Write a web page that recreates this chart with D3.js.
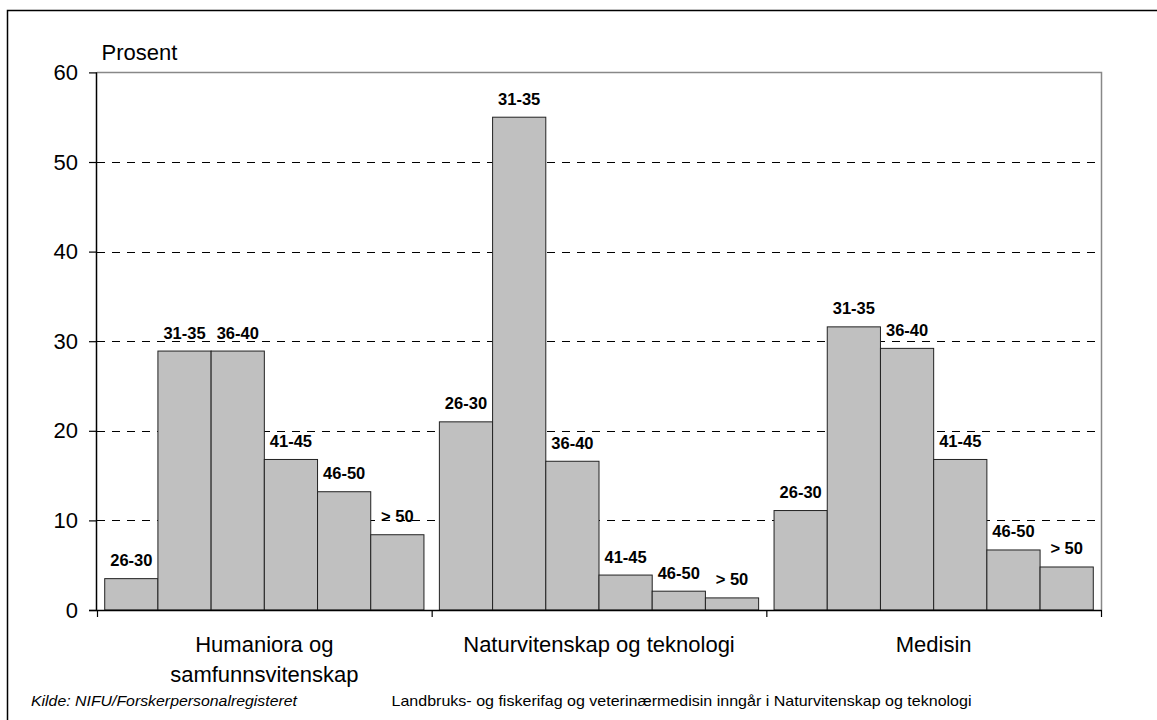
<!DOCTYPE html>
<html>
<head>
<meta charset="utf-8">
<script src="https://cdn.jsdelivr.net/npm/d3@7"></script>
<style>
  body { margin: 0; background: #fff; }
  svg { display: block; font-family: "Liberation Sans", Arial, sans-serif; }
</style>
</head>
<body>
<svg id="chart" width="1157" height="720"></svg>
<script>
// categories and age groups
const groups = [
    ["Humaniora og", "samfunnsvitenskap"],
    ["Naturvitenskap og teknologi"],
    ["Medisin"]
];
const ages = ["26-30", "31-35", "36-40", "41-45", "46-50", "> 50"];
// percent per age group
const humaniora = [3.5, 28.9, 28.9, 16.8, 13.2, 8.4];
const naturvitenskap = [21.0, 55.0, 16.6, 3.9, 2.1, 1.35];
const medisin = [11.1, 31.6, 29.2, 16.8, 6.7, 4.8];
const yTicks = [0, 10, 20, 30, 40, 50, 60];

const seriesByGroup = [humaniora, naturvitenskap, medisin];

const svg = d3.select('#chart');
const plotLeft = 97, plotRight = 1101, plotTop = 72.4, plotBottom = 610;

svg.append('rect')
    .attr('width', 1157).attr('height', 720)
    .style('fill', 'white');

// outer frame (runs past the right and bottom edges)
svg.append('rect')
    .attr('x', 7.5).attr('y', 10.5)
    .attr('width', 1300).attr('height', 900)
    .style('fill', 'none')
    .style('stroke', '#000')
    .style('stroke-width', 1.5);

const y = d3.scaleLinear().domain([0, 60]).range([plotBottom, plotTop]);
const x0 = d3.scaleBand().domain(d3.range(groups.length)).range([plotLeft, plotRight]).padding(0);
const x1 = d3.scaleBand().domain(ages).range([0, x0.bandwidth()])
    .paddingInner(0).paddingOuter(0.145);

// dashed gridlines
svg.append('g')
    .selectAll('line')
    .data(yTicks.filter(t => t > 0 && t < 60))
    .enter().append('line')
    .attr('x1', plotLeft).attr('x2', plotRight)
    .attr('y1', d => Math.round(y(d)) + 0.5)
    .attr('y2', d => Math.round(y(d)) + 0.5)
    .style('stroke', '#000')
    .style('stroke-width', 1)
    .style('stroke-dasharray', '8,7');

// plot area border, top and right
svg.append('path')
    .attr('d', `M${plotLeft},${Math.round(y(60)) + 0.5} H${plotRight + 0.5} V${plotBottom}`)
    .style('fill', 'none')
    .style('stroke', '#888')
    .style('stroke-width', 1.5);

// bars
const groupG = svg.selectAll('.grp')
    .data(seriesByGroup)
    .enter().append('g')
    .attr('class', 'grp')
    .attr('transform', (d, i) => `translate(${x0(i)},0)`);

groupG.selectAll('rect')
    .data(d => d.map((v, k) => ({ age: ages[k], value: v })))
    .enter().append('rect')
    .attr('x', d => x1(d.age))
    .attr('y', d => y(d.value))
    .attr('width', x1.bandwidth())
    .attr('height', d => y(0) - y(d.value))
    .style('fill', '#c0c0c0')
    .style('stroke', '#222')
    .style('stroke-width', 1);

groupG.selectAll('.barlabel')
    .data(d => d.map((v, k) => ({ age: ages[k], value: v })))
    .enter().append('text')
    .attr('class', 'barlabel')
    .text(d => d.age)
    .attr('x', d => x1(d.age) + x1.bandwidth() / 2)
    .attr('y', d => y(d.value) - 12.5)
    .attr('text-anchor', 'middle')
    .style('font-size', '16.5px')
    .style('font-weight', 'bold')
    .style('fill', '#000');

// y axis
const yAxis = svg.append('g')
    .attr('transform', `translate(${plotLeft},0)`)
    .call(d3.axisLeft(y).tickValues(yTicks).tickSize(8).tickPadding(11));
yAxis.select('.domain').attr('d', `M-0.5,${plotTop} V${plotBottom}`).style('stroke', '#000').style('stroke-width', 1.5);
yAxis.selectAll('.tick line').style('stroke', '#000').style('stroke-width', 1.2);
yAxis.selectAll('text')
    .style('font-family', '"Liberation Sans", Arial, sans-serif')
    .style('font-size', '22px')
    .style('fill', '#000');

// x axis line and group separators
svg.append('line')
    .attr('x1', plotLeft - 8).attr('x2', plotRight + 0.5)
    .attr('y1', plotBottom + 0.5).attr('y2', plotBottom + 0.5)
    .style('stroke', '#000').style('stroke-width', 1.5);
svg.append('g')
    .selectAll('line')
    .data(d3.range(groups.length + 1))
    .enter().append('line')
    .attr('x1', i => (i < groups.length ? x0(i) : plotRight) + 0.5)
    .attr('x2', i => (i < groups.length ? x0(i) : plotRight) + 0.5)
    .attr('y1', plotBottom).attr('y2', plotBottom + 7)
    .style('stroke', '#000').style('stroke-width', 1.2);

// category labels
const catText = svg.append('g').selectAll('text')
    .data(groups)
    .enter().append('text')
    .attr('x', (d, i) => x0(i) + x0.bandwidth() / 2)
    .attr('y', 651.5)
    .attr('text-anchor', 'middle')
    .style('font-size', '22px')
    .style('fill', '#000');
catText.selectAll('tspan')
    .data(d => d)
    .enter().append('tspan')
    .attr('x', function () { return d3.select(this.parentNode).attr('x'); })
    .attr('dy', (d, i) => i === 0 ? 0 : 30)
    .text(d => d);

svg.append('text')
    .text('Prosent')
    .attr('x', 101.5).attr('y', 60)
    .style('font-size', '22px')
    .style('fill', '#000');

// footnotes
svg.append('text')
    .text('Kilde: NIFU/Forskerpersonalregisteret')
    .attr('x', 31).attr('y', 705.5)
    .attr('textLength', 266)
    .attr('lengthAdjust', 'spacingAndGlyphs')
    .style('font-size', '15px')
    .style('font-style', 'italic')
    .style('fill', '#000');

svg.append('text')
    .text('Landbruks- og fiskerifag og veterinærmedisin inngår i Naturvitenskap og teknologi')
    .attr('x', 391.5).attr('y', 705.5)
    .attr('textLength', 580)
    .attr('lengthAdjust', 'spacingAndGlyphs')
    .style('font-size', '15px')
    .style('font-style', 'normal')
    .style('fill', '#000');
</script>
</body>
</html>
